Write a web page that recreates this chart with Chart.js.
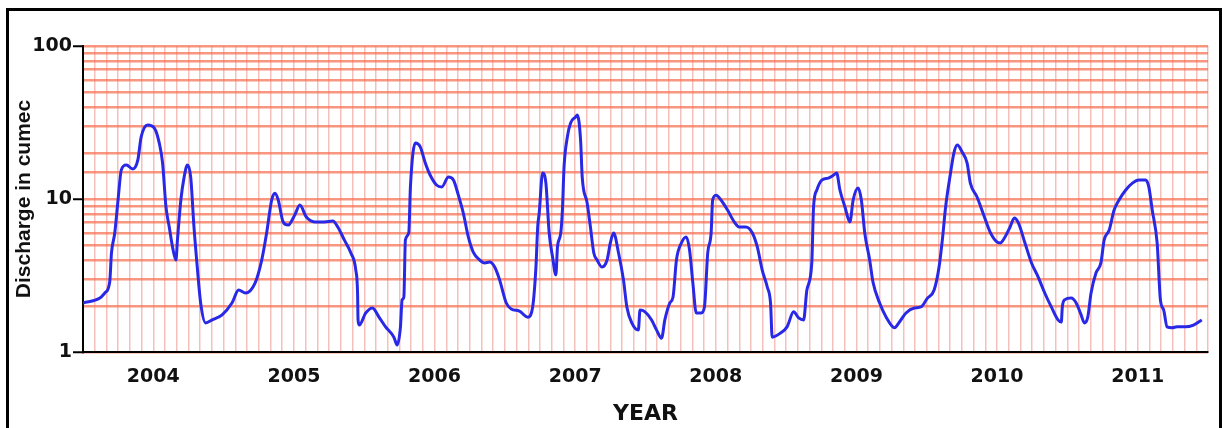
<!DOCTYPE html>
<html>
<head>
<meta charset="utf-8">
<script src="https://cdn.jsdelivr.net/npm/chart.js@4.4.1/dist/chart.umd.min.js"></script>
<style>
  body { margin: 0; background: #fff; }
  #wrap { position: relative; width: 1222px; height: 428px; overflow: hidden; }
  #frame { position: absolute; left: 6px; top: 8px; width: 1210px; height: 440px; border: 3px solid #000; }
  #chart { position: absolute; left: 0; top: 0; }
</style>
</head>
<body>
<div id="wrap">
  <div id="frame"></div>
  <canvas id="chart" width="1222" height="428"></canvas>
</div>
<script>
// months counted from Jan 2004
var months = [0.0,1.44,1.86,2.28,2.43,2.71,2.99,3.27,3.70,4.25,4.68,4.96,5.52,6.09,6.51,6.79,7.08,7.36,7.64,7.93,
  8.06,8.35,8.63,8.91,9.19,9.47,9.75,10.04,10.46,11.02,11.87,12.71,13.28,13.87,14.69,15.25,15.67,16.10,16.38,16.66,
  17.08,17.51,18.07,18.50,19.06,19.77,20.61,21.32,21.74,22.30,22.86,23.28,23.43,23.47,23.57,24.13,24.70,25.26,25.82,26.53,
  26.81,27.09,27.23,27.38,27.51,27.80,27.94,28.36,28.78,29.21,29.63,30.19,30.62,31.18,31.61,32.03,32.45,32.88,33.30,33.86,
  34.28,34.70,35.13,35.55,36.12,36.54,37.24,37.95,38.37,38.65,38.80,38.93,39.22,39.50,39.78,40.07,40.35,40.49,40.77,40.91,
  41.05,41.33,41.61,42.04,42.18,42.46,42.60,43.02,43.30,43.59,43.87,44.29,44.72,45.00,45.28,45.70,46.12,46.41,46.83,47.39,
  47.53,47.96,48.52,48.95,49.37,49.65,50.07,50.35,50.64,51.06,51.48,51.76,52.04,52.33,52.75,53.03,53.31,53.60,53.73,54.02,
  54.44,55.00,55.57,55.99,56.56,57.12,57.54,57.96,58.39,58.67,58.81,59.52,60.08,60.64,61.07,61.49,61.77,62.19,62.34,62.62,
  63.04,63.60,64.03,64.31,64.59,65.02,65.44,65.72,66.14,66.42,66.71,67.13,67.41,67.98,68.54,69.25,69.67,70.23,70.94,71.50,
  72.06,72.63,73.05,73.33,73.61,74.03,74.32,74.60,75.02,75.44,75.72,76.29,76.86,77.41,77.98,78.26,78.68,79.11,79.48,79.82,
  80.38,80.94,81.51,82.07,82.63,83.20,83.48,83.57,83.76,84.33,84.75,85.17,85.45,85.74,86.02,86.44,86.86,87.14,87.57,87.99,
  88.41,88.98,89.55,90.10,90.67,90.95,91.24,91.66,91.94,92.22,92.51,92.93,93.36,94.05,94.76,95.47];
var discharge = [2.09,2.25,2.43,2.87,4.44,6.0,9.85,15.5,16.7,15.7,18.0,25.4,30.5,29.1,23.2,17.2,8.87,6.56,4.86,3.99,
  5.40,9.85,13.9,16.7,13.9,6.56,3.59,2.09,1.55,1.62,1.75,2.09,2.54,2.43,2.83,3.99,6.0,9.85,10.9,9.85,
  7.08,6.76,7.86,9.14,7.62,7.08,7.08,7.18,6.56,5.40,4.44,3.43,2.43,1.62,1.50,1.80,1.94,1.69,1.46,1.25,
  1.11,1.46,2.19,2.29,5.40,6.0,12.0,23.2,21.9,17.2,14.3,12.3,12.0,13.9,13.3,10.6,8.10,5.65,4.50,3.99,
  3.82,3.87,3.59,2.96,2.09,1.91,1.85,1.69,1.97,3.59,6.56,8.10,14.8,12.7,6.0,4.18,3.19,4.86,6.0,8.47,
  16.2,25.4,31.4,34.4,35.4,24.3,13.9,9.41,6.56,4.44,3.99,3.59,3.99,5.16,6.0,4.44,2.96,1.97,1.55,1.39,
  1.88,1.83,1.62,1.39,1.23,1.62,2.09,2.29,3.99,5.16,5.65,4.64,2.83,1.80,1.80,1.97,4.44,6.0,9.85,10.6,
  9.85,8.47,7.08,6.56,6.56,6.0,4.86,3.43,2.66,2.09,1.25,1.33,1.46,1.83,1.67,1.62,2.54,3.82,8.87,11.45,
  13.3,13.7,14.3,14.8,11.45,8.87,7.08,9.85,11.8,9.85,6.0,3.99,2.87,2.09,1.69,1.44,1.57,1.80,1.94,1.97,
  2.25,2.54,3.59,5.40,8.87,14.8,20.0,22.5,20.3,17.2,12.7,10.3,7.86,6.08,5.24,5.16,5.65,6.56,7.51,6.97,
  5.16,3.82,3.09,2.43,1.97,1.62,1.57,1.97,2.19,2.25,2.09,1.75,1.55,1.69,2.43,3.28,3.82,5.40,6.27,8.47,
  9.85,11.45,12.7,13.3,13.3,12.0,8.47,5.16,2.19,1.88,1.46,1.44,1.46,1.46,1.50,1.62];
var years = ["2004","2005","2006","2007","2008","2009","2010","2011"];
var yLabels = [1, 10, 100];

var points = months.map(function (m, i) { return {x: m, y: discharge[i]}; });

var canvas = document.getElementById("chart");
var config = {
  type: "line",
  data: {
    datasets: [{
      data: points,
      borderColor: "rgb(40,40,230)",
      borderWidth: 3,
      pointRadius: 0,
      cubicInterpolationMode: "monotone",
      fill: false
    }]
  },
  options: {
    responsive: false,
    animation: false,
    events: [],
    layout: { padding: { left: 0, right: 4, top: 46, bottom: 0 } },
    plugins: { legend: { display: false }, tooltip: { enabled: false } },
    scales: {
      x: {
        type: "linear",
        min: 0,
        max: years.length * 12,
        afterFit: function (scale) { scale.height = 76; },
        afterBuildTicks: function (scale) {
          var t = [];
          for (var v = 0; v <= years.length * 12; v++) t.push({value: v});
          scale.ticks = t;
        },
        ticks: {
          autoSkip: false,
          maxRotation: 0,
          padding: 14,
          color: "#111",
          font: { family: "DejaVu Sans", weight: "bold", size: 19 },
          callback: function (v) {
            return v % 12 === 6 ? years[(v - 6) / 12] : "";
          }
        },
        grid: { color: "rgba(240,150,140,0.6)", lineWidth: 1.5, drawTicks: false },
        border: { color: "#000", width: 2 },
        title: {
          display: true,
          text: "YEAR",
          color: "#111",
          font: { family: "DejaVu Sans", weight: "bold", size: 22 },
          padding: { top: 0, bottom: 1 }
        }
      },
      y: {
        type: "logarithmic",
        min: 1,
        max: 100,
        afterFit: function (scale) { scale.width = 83; },
        ticks: {
          autoSkip: false,
          padding: 1,
          color: "#111",
          font: { family: "DejaVu Sans", weight: "bold", size: 19 },
          callback: function (v) {
            return yLabels.indexOf(v) >= 0 ? String(v) : "";
          }
        },
        grid: {
          color: "rgba(245,115,85,0.75)",
          lineWidth: 2.5,
          tickLength: 10,
          tickWidth: 2,
          tickColor: function (ctx) {
            return yLabels.indexOf(ctx.tick.value) >= 0 ? "#000" : "rgba(0,0,0,0)";
          }
        },
        border: { color: "#000", width: 2 },
        title: {
          display: true,
          text: "Discharge in cumec",
          color: "#111",
          font: { family: "Liberation Sans", weight: "bold", size: 21 },
          padding: { top: 12, bottom: 0 }
        }
      }
    }
  }
};

var chart = new Chart(canvas, config);
</script>
</body>
</html>
